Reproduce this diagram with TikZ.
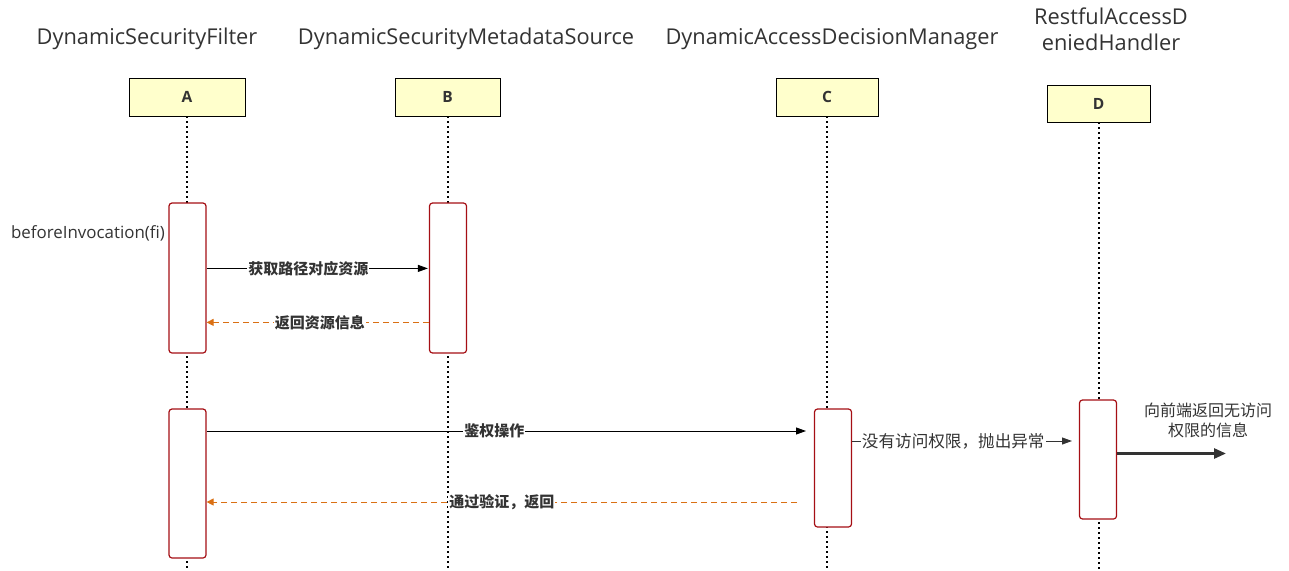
\documentclass[tikz,border=0pt]{standalone}
\usepackage{fontspec}
\setmainfont{Open Sans}
\newfontfamily\cjk{Noto Sans CJK SC}
\usetikzlibrary{arrows.meta}
\definecolor{actred}{RGB}{165,15,20}
\definecolor{hdrfill}{RGB}{255,255,204}
\definecolor{orng}{RGB}{218,112,20}
\definecolor{txt}{RGB}{51,51,51}
\begin{document}
\begin{tikzpicture}[x=1pt,y=-1pt,
  title/.style={text=txt,font=\fontsize{21.8}{26}\selectfont,align=center,inner sep=0},
  hdr/.style={draw=black,fill=hdrfill,line width=0.8pt,font=\bfseries\fontsize{15.5}{18}\selectfont,text=txt,inner sep=0},
  life/.style={line width=2pt,dash pattern=on 2pt off 3pt,black},
  act/.style={draw=actred,fill=white,rounded corners=3pt,line width=1.2pt,minimum width=37pt,inner sep=0},
  msg/.style={line width=0.9pt,black,-{Triangle[length=10pt,width=7pt]}},
  ret/.style={line width=1pt,orng,dash pattern=on 6pt off 4pt,-{Triangle[length=7pt,width=7pt]}},
  lbl/.style={fill=white,inner sep=1pt,font=\cjk\bfseries\fontsize{15}{17}\selectfont,text=txt},
  glbl/.style={fill=white,inner sep=1pt,font=\cjk\fontsize{16.6}{19}\selectfont,text=txt}
]
\useasboundingbox (0,0) rectangle (1289,570);

% titles
\node[title] (tA) at (147,39) {DynamicSecurityFilter};
\node[title] (tB) at (466,39) {DynamicSecurityMetadataSource};
\node[title] (tC) at (832,39) {DynamicAccessDecisionManager};
\node[title] (tD) at (1111,29) {RestfulAccessD\\eniedHandler};

% headers
\node[hdr,minimum width=116pt,minimum height=38pt] (A) at (187,97) {A};
\node[hdr,minimum width=105pt,minimum height=38pt] (B) at (447.5,97) {B};
\node[hdr,minimum width=102pt,minimum height=38pt] (C) at (827,97) {C};
\node[hdr,minimum width=103pt,minimum height=37pt] (D) at (1098.5,103.5) {D};

% lifeline ends
\coordinate (Ae) at (187,570);
\coordinate (Be) at (447.5,570);
\coordinate (Ce) at (827,570);
\coordinate (De) at (1098.5,570);
\draw[life] (A.south) -- (Ae);
\draw[life] (B.south) -- (Be);
\draw[life] (C.south) -- (Ce);
\draw[life] (D.south) -- (De);

% activations
\node[act,minimum height=150pt] (A1) at (187.5,278) {};
\node[act,minimum height=149pt] (A2) at (187.5,483.5) {};
\node[act,minimum height=150pt] (B1) at (448,278) {};
\node[act,minimum height=118pt] (C1) at (833,468) {};
\node[act,minimum height=119pt] (D1) at (1098,459.5) {};

\node[text=txt,font=\fontsize{16.9}{20}\selectfont,inner sep=0] (bi) at (88,233) {beforeInvocation(fi)};

% messages
\draw[msg] ([yshift=-66pt]A1.north east) -- node[lbl,pos=0.46] (l1) {获取路径对应资源} ([xshift=-1pt,yshift=-66pt]B1.north west);
\draw[ret] ([yshift=-120pt]B1.north west) -- node[lbl,pos=0.49] (l2) {返回资源信息} ([yshift=-120pt]A1.north east);

\coordinate (c3) at (806,431);
\draw[msg] (A2.east |- c3) -- node[lbl,pos=0.48] (l3) {鉴权操作} (c3);
\coordinate (c4) at (797,502);
\draw[ret] (c4) -- node[lbl,pos=0.50] (l4) {通过验证，返回} (A2.east |- c4);

\coordinate (c5) at (1072,441);
\draw[msg,draw=txt,-{Triangle[length=10pt,width=7pt,fill=txt]}] (C1.east |- c5) -- node[glbl,pos=0.46] (l5) {没有访问权限，抛出异常} (c5);

\coordinate (c6) at (1226,453.5);
\draw[line width=2.6pt,draw=txt,-{Triangle[length=12pt,width=10pt]}] (D1.east |- c6) -- (c6);
\node[font=\cjk\fontsize{16}{20}\selectfont,text=txt,align=center,inner sep=0] (note) at (1208,420) {向前端返回无访问\\权限的信息};
\end{tikzpicture}
\end{document}
